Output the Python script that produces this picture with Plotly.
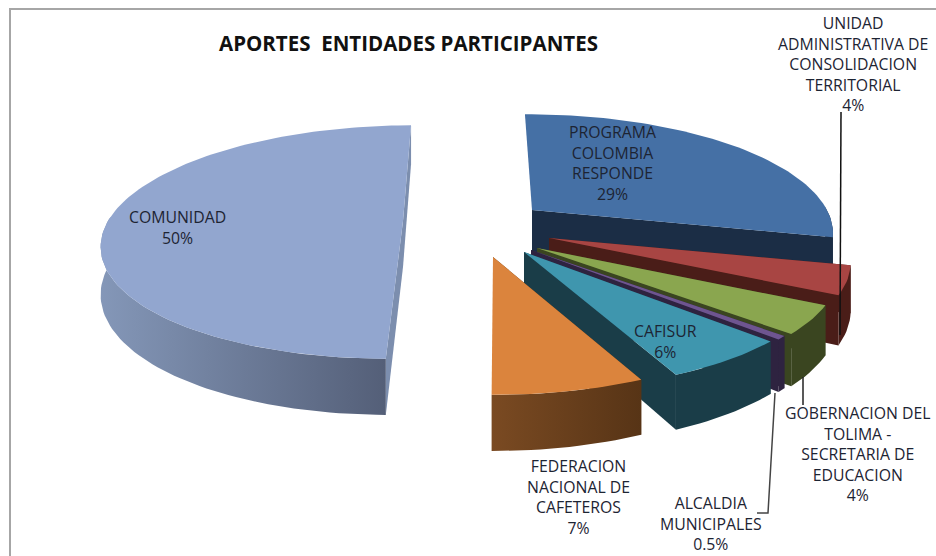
import math
import plotly.graph_objects as go

TITLE = "<b>APORTES  ENTIDADES PARTICIPANTES</b>"
categories = ["PROGRAMA COLOMBIA RESPONDE", "UNIDAD ADMINISTRATIVA DE CONSOLIDACION TERRITORIAL",
              "GOBERNACION DEL TOLIMA - SECRETARIA DE EDUCACION", "ALCALDIA MUNICIPALES",
              "CAFISUR", "FEDERACION NACIONAL DE CAFETEROS", "COMUNIDAD"]
values = [29, 4, 4, 0.5, 6, 7, 50]
percent_labels = ["29%", "4%", "4%", "0.5%", "6%", "7%", "50%"]
label_lines = [
    ["PROGRAMA", "COLOMBIA", "RESPONDE"],
    ["UNIDAD", "ADMINISTRATIVA DE", "CONSOLIDACION", "TERRITORIAL"],
    ["GOBERNACION DEL", "TOLIMA -", "SECRETARIA DE", "EDUCACION"],
    ["ALCALDIA", "MUNICIPALES"],
    ["CAFISUR"],
    ["FEDERACION", "NACIONAL DE", "CAFETEROS"],
    ["COMUNIDAD"],
]
# layout only
top_colors = ["#4570A5", "#A84543", "#8AA64F", "#6E5590", "#3F96AE", "#DB843D", "#92A6CF"]
wall_left = ["#1B2D45", "#4A1D18", "#3A4520", "#2E2340", "#1A3D48", "#7A4A22", "#8497B8"]
wall_right = ["#1B2D45", "#4A1D18", "#3A4520", "#2E2340", "#1A3D48", "#573416", "#545F78"]
centers = [(532, 210), (549, 238), (537, 248), (531, 250), (524, 252), (493, 257), (403, 221)]
vanish_x = [500, 500, 500, 500, 500, 488, 470]
label_center = [(612, 163), (853, 64), (858, 454), (711, 523), (665, 341), (578, 497), (177, 227)]
leaders = [([841, 840], [112, 335]), ([803, 803], [377, 405]),
           ([775, 768, 757], [393, 513, 513])]
leader_colors = ["#111111", "#222222", "#444444"]
A, B, K, DEPTH = 295, 113, 0.18, 46
START_DEG = -0.5
FONT = "Open Sans, Lato, sans-serif"


def project(cx, cy, vx, deg, r=1.0, dz=0.0):
    t = math.radians(deg)
    u, v = r * math.sin(t), -r * math.cos(t)
    s = 1 / (1 - K * v)
    return vx + (cx - vx + A * u) * s, cy + (B * v + dz) * s


def poly(fig, pts, color=None, grad=None):
    xs = [p[0] for p in pts] + [pts[0][0]]
    ys = [p[1] for p in pts] + [pts[0][1]]
    kw = dict(fillcolor=color) if grad is None else dict(
        fillgradient=dict(type="horizontal", colorscale=[[0, grad[0]], [1, grad[1]]]))
    fig.add_trace(go.Scatter(x=xs, y=ys, mode="lines", fill="toself", line=dict(width=0),
                             hoverinfo="skip", showlegend=False, **kw))


fig = go.Figure()
total = sum(values)
angles = []
acc = START_DEG
for val in values:
    angles.append((acc, acc + val / total * 360))
    acc += val / total * 360

for i in [6, 0, 1, 2, 3, 4, 5]:
    a0, a1 = angles[i]
    cx, cy = centers[i]
    vx = vanish_x[i]
    n = max(6, int((a1 - a0) / 1.5))
    arc = [a0 + (a1 - a0) * j / n for j in range(n + 1)]
    top = [project(cx, cy, vx, d) for d in arc]
    front = [d for d in arc if math.cos(math.radians(d)) < 0.05]
    apex_t = project(cx, cy, vx, 0, r=0)
    apex_b = project(cx, cy, vx, 0, r=0, dz=DEPTH)
    edge = wall_right[i] if i != 6 else "#7C8EAE"
    if math.cos(math.radians(a0)) < 0.5:
        poly(fig, [apex_t, top[0], project(cx, cy, vx, a0, dz=DEPTH), apex_b], edge)
    poly(fig, [apex_t, top[-1], project(cx, cy, vx, a1, dz=DEPTH), apex_b], edge)
    if len(front) > 1:
        poly(fig, [project(cx, cy, vx, d) for d in front]
             + [project(cx, cy, vx, d, dz=DEPTH) for d in front[::-1]],
             grad=(wall_left[i], wall_right[i]))
    poly(fig, [apex_t] + top, top_colors[i])

for (lx, ly), lc in zip(leaders, leader_colors):
    fig.add_trace(go.Scatter(x=lx, y=ly, mode="lines", line=dict(color=lc, width=1.5),
                             hoverinfo="skip", showlegend=False))

for lines, pct, (x, y) in zip(label_lines, percent_labels, label_center):
    fig.add_annotation(x=x, y=y, text="<br>".join(lines + [pct]), showarrow=False, xanchor="center",
                       yanchor="middle", align="center",
                       font=dict(family=FONT, size=15.8, color="#1D2433"))

fig.add_annotation(x=408, y=43, text=TITLE, showarrow=False, xanchor="center", yanchor="middle",
                   font=dict(family=FONT, size=20.5, color="#111111"))

fig.update_layout(
    width=936, height=556, margin=dict(l=0, r=0, t=0, b=0),
    paper_bgcolor="white", plot_bgcolor="white", showlegend=False,
    xaxis=dict(range=[0, 936], visible=False, fixedrange=True),
    yaxis=dict(range=[556, 0], visible=False, fixedrange=True),
    shapes=[dict(type="path", path="M 936 9 L 10 9 L 10 556", line=dict(color="#A6A6A6", width=2))],
)
fig.write_html("out.html", config=dict(displayModeBar=False),
               post_script="document.body.style.margin='0';document.documentElement.style.overflow='hidden';")
